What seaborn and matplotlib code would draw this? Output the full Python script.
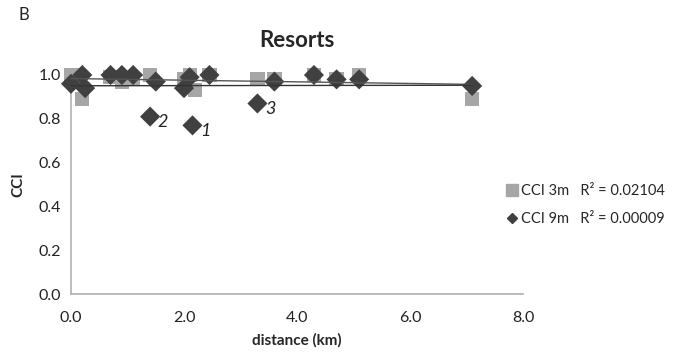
import pandas as pd
import numpy as np
import matplotlib
matplotlib.use("Agg")
import matplotlib.pyplot as plt
import seaborn as sns
from matplotlib.lines import Line2D

# ===== DATA =====
dist_3m = [0.0, 0.1, 0.2, 0.7, 0.9, 1.1, 1.4, 2.0, 2.1, 2.2, 2.45, 3.3, 3.6, 4.3, 4.7, 5.1, 7.1]
cci_3m = [1.0, 1.0, 0.89, 0.99, 0.97, 0.98, 1.0, 0.98, 1.0, 0.93, 1.0, 0.98, 0.98, 1.0, 0.98, 1.0, 0.89]

dist_9m = [0.0, 0.2, 0.25, 0.7, 0.9, 1.1, 1.5, 1.4, 2.0, 2.1, 2.15, 2.45, 3.3, 3.6, 4.3, 4.7, 5.1, 7.1]
cci_9m = [0.96, 1.0, 0.94, 1.0, 1.0, 1.0, 0.97, 0.81, 0.94, 0.99, 0.77, 1.0, 0.87, 0.97, 1.0, 0.98, 0.98, 0.95]

r2_labels = ["R² = 0.02104", "R² = 0.00009"]
outliers = {"1": (2.15, 0.77), "2": (1.4, 0.81), "3": (3.3, 0.87)}

df = pd.concat([
    pd.DataFrame({"distance": dist_3m, "CCI": cci_3m, "series": "CCI 3m"}),
    pd.DataFrame({"distance": dist_9m, "CCI": cci_9m, "series": "CCI 9m"}),
], ignore_index=True)

# ===== STYLE =====
sns.set_style("white")
plt.rcParams['font.family'] = ['Lato', 'DejaVu Sans']
GRAY = "#a6a6a6"
DARK = "#404040"
AXIS = "#b0b0b0"

fig = plt.figure(figsize=(6.79, 3.58), dpi=100)
ax = fig.add_axes([71 / 679, 1 - 294 / 358, 452 / 679, 219 / 358])

sns.scatterplot(data=df, x="distance", y="CCI", hue="series", style="series",
                palette={"CCI 3m": GRAY, "CCI 9m": DARK},
                markers={"CCI 3m": "s", "CCI 9m": "D"},
                s=105, linewidth=0, legend=False, ax=ax, zorder=3, clip_on=False)

# linear trend lines
for name, col in [("CCI 3m", "#555555"), ("CCI 9m", "#333333")]:
    sns.regplot(data=df[df.series == name], x="distance", y="CCI", scatter=False,
                ci=None, truncate=True,
                line_kws={"color": col, "lw": 1.0, "zorder": 4, "clip_on": False}, ax=ax)

for lab, (x, y) in outliers.items():
    ax.text(x + 0.13, y - 0.025, lab, fontsize=13, style="italic", color="#222222",
            ha="left", va="center")

ax.set_xlim(0, 8)
ax.set_ylim(0, 1.0)
xt = np.arange(0, 8.01, 1.0)
yt = np.arange(0, 1.001, 0.1)
ax.set_xticks(xt)
ax.set_xticklabels([f"{v:.1f}" if i % 2 == 0 else "" for i, v in enumerate(xt)])
ax.set_yticks(yt)
ax.set_yticklabels([f"{v:.1f}" if i % 2 == 0 else "" for i, v in enumerate(yt)])
ax.tick_params(axis="both", direction="out", length=4, width=1, color=AXIS,
               labelsize=11.5, labelcolor="#222222", pad=3)
ax.tick_params(axis="x", pad=8)
for side in ["top", "right"]:
    ax.spines[side].set_visible(False)
for side in ["left", "bottom"]:
    ax.spines[side].set_color(AXIS)
    ax.spines[side].set_linewidth(1.2)

ax.set_xlabel("distance (km)", fontsize=11, fontweight="bold", labelpad=6)
ax.set_ylabel("CCI", fontsize=11, fontweight="bold", labelpad=10)
ax.set_title("Resorts", fontsize=16, fontweight="bold", pad=20)

fig.text(18 / 679, 1 - 15 / 358, "B", fontsize=12, va="center", ha="left")

handles = [
    Line2D([], [], marker="s", color=GRAY, ls="", markersize=8),
    Line2D([], [], marker="D", color=DARK, ls="", markersize=5.5),
]
labels = [f"CCI 3m   {r2_labels[0]}", f"CCI 9m   {r2_labels[1]}"]
fig.legend(handles, labels, loc="center left", bbox_to_anchor=(505 / 679, 1 - 205 / 358),
           frameon=False, fontsize=10.5, handletextpad=0.1, handlelength=1.0,
           labelspacing=1.0, borderaxespad=0, borderpad=0)

fig.savefig("out.png", dpi=100)
